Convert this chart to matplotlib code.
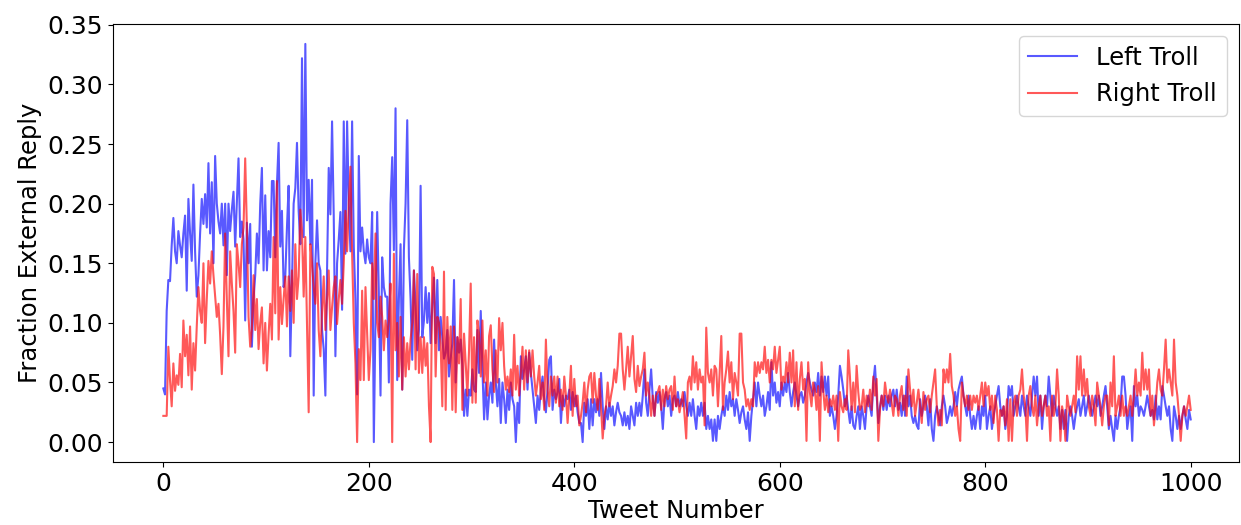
import numpy as np
import matplotlib
matplotlib.use("Agg")
import matplotlib.pyplot as plt

# fraction of external replies in thousandths,
# sampled roughly every 1.6 tweets from tweet 0 to tweet 1000
left_troll = [
    45, 40, 110, 136, 135, 165, 188, 160, 150, 177, 165, 155, 175, 190, 127, 204, 175, 152, 216, 160,
    122, 140, 175, 204, 183, 208, 180, 234, 175, 218, 150, 240, 200, 185, 175, 200, 165, 200, 140, 200,
    177, 195, 210, 164, 200, 238, 172, 185, 170, 102, 184, 150, 183, 80, 120, 140, 175, 150, 200, 230, 144,
    207, 144, 177, 155, 219, 219, 155, 216, 251, 164, 194, 130, 139, 180, 215, 72, 133, 200, 213, 251,
    194, 166, 322, 172, 334, 186, 220, 166, 220, 39, 150, 186, 150, 144, 94, 78, 39, 144, 230, 191,
    269, 190, 72, 150, 170, 193, 111, 269, 158, 269, 200, 160, 269, 164, 120, 40, 240, 160, 180, 160,
    150, 170, 155,
    150, 193, 0, 105, 193, 125, 39, 155, 130, 122, 122, 50, 200, 239, 161, 280, 52, 120, 166, 44,
    161, 200, 270, 155, 120, 69, 144, 114, 77, 94, 215, 88, 102, 130, 100, 125, 83, 114, 138, 83,
    136, 77, 105, 88, 70, 75, 94, 55, 70, 83, 136, 50, 88, 75, 86, 64, 22, 44, 22, 44, 39, 61, 44,
    42, 94, 58, 110, 61, 19, 50, 19, 39, 50, 33, 86, 50, 30, 53, 16, 50, 36, 16, 44,
    27, 50, 36, 30, 0, 33, 16, 72, 53, 61, 72, 44, 75, 58, 44, 30, 16, 39, 27, 44,
    55, 36, 25, 44, 69, 72, 27, 44, 36, 42, 53, 16, 39, 30, 39, 36, 44, 27, 42, 30, 39, 25, 16,
    16, 0, 33, 22, 36, 11, 36, 14, 36, 25, 36, 22, 58, 30, 11, 30, 19, 33, 22, 30,
    14, 25, 33, 25, 22, 14, 25, 14, 22, 11, 30, 22, 14, 33, 22, 33, 22, 39, 61, 33,
    22, 44, 61, 36, 22, 42, 33, 42, 30, 11, 36, 42, 30, 39, 22, 36, 39, 30, 42, 30, 36, 30, 42,
    30, 22, 33, 22, 36, 22, 11, 30, 22, 33, 22, 33, 11, 22, 11, 19, 1, 19, 1, 22,
    11, 22, 30, 22, 39, 27, 42, 30, 36, 22, 36, 27, 16, 25, 30, 19, 11, 25, 1, 22,
    36, 50, 30, 50, 39, 30, 39, 22, 30, 42, 27, 67, 39, 50, 33, 42, 30, 50, 39, 50, 42, 58, 42,
    30, 42, 50, 39, 30, 39, 42, 33, 39, 50, 58, 50, 44, 39, 50, 42, 58, 39, 55, 42,
    55, 39, 55, 22, 30, 22, 11, 22, 39, 64, 55, 44, 30, 39, 27, 16, 30, 14, 11, 22,
    30, 11, 30, 22, 11, 30, 39, 30, 22, 50, 64, 39, 16, 30, 39, 27, 39, 27, 39, 30, 39, 44, 30,
    44, 27, 33, 22, 39, 22, 55, 30, 39, 22, 16, 22, 14, 11, 36, 22, 30, 39, 30, 14,
    36, 11, 1, 22, 30, 22, 14, 30, 39, 30, 16, 22, 30, 22, 30, 42, 30, 44, 50, 55,
    39, 30, 22, 39, 22, 11, 22, 11, 22, 30, 11, 30, 22, 39, 11, 22, 30, 11, 22, 30, 39, 47, 30,
    22, 30, 11, 22, 47, 39, 47, 22, 30, 39, 30, 22, 39, 30, 22, 39, 30, 22, 39, 55,
    39, 55, 22, 39, 11, 30, 39, 30, 55, 39, 22, 39, 30, 22, 30, 11, 27, 11, 27, 1,
    22, 30, 22, 11, 22, 30, 36, 22, 30, 39, 22, 30, 39, 30, 22, 30, 39, 30, 39, 22, 30, 39, 47,
    30, 11, 22, 11, 1, 22, 11, 22, 30, 55, 55, 39, 11, 22, 30, 1, 47, 30, 39, 22,
    30, 27, 22, 30, 39, 30, 22, 27, 19, 39, 19, 30, 19, 47, 39, 30, 22, 30, 11, 1,
    30, 22, 11, 22, 11, 22, 30, 19, 11, 27, 19,
]

right_troll = [
    22, 22, 22, 80, 52, 30, 66, 43, 56, 48, 74, 46, 102, 72, 90, 56, 97, 44, 83, 60,
    97, 130, 110, 100, 150, 83, 120, 152, 133, 160, 140, 122, 105, 116, 90, 57, 97, 175, 120, 72,
    160, 133, 110, 75, 166, 150, 130, 166, 180, 238, 180, 105, 80, 95, 140, 94, 120, 78, 100, 113, 66,
    100, 60, 90, 116, 86, 172, 108, 219, 86, 130, 99, 120, 139, 97, 139, 110, 144, 100, 166, 120,
    139, 195, 177, 122, 172, 99, 25, 166, 150, 130, 116, 150, 94, 72, 110, 139, 94, 120, 144, 94,
    113, 130, 139, 99, 120, 136, 116, 150, 194, 160, 200, 231, 158, 100, 66, 0, 78, 52, 127, 52,
    130, 90, 52,
    77, 150, 120, 175, 100, 88, 122, 105, 77, 102, 88, 102, 133, 0, 158, 77, 100, 55, 105, 44,
    88, 55, 83, 61, 86, 100, 144, 61, 141, 58, 88, 58, 88, 64, 83, 30, 0, 147, 141, 55,
    105, 100, 83, 30, 143, 27, 105, 66, 97, 27, 97, 25, 88, 66, 120, 27, 91, 66, 39, 77, 133, 33, 88,
    33, 102, 91, 55, 102, 50, 77, 39, 89, 98, 61, 42, 77, 50, 104, 77, 100, 64, 44, 55,
    42, 61, 39, 90, 44, 64, 39, 58, 80, 44, 77, 50, 77, 55, 77, 55, 39, 50, 64, 36,
    50, 27, 86, 44, 30, 55, 39, 55, 33, 55, 30, 44, 27, 55, 39, 16, 39, 64, 22, 53, 30, 39, 14,
    22, 33, 50, 25, 44, 55, 58, 33, 58, 39, 27, 53, 30, 3, 22, 30, 50, 30, 39, 47,
    61, 50, 64, 91, 91, 61, 44, 61, 80, 55, 72, 89, 53, 42, 64, 47, 55, 61, 75, 39,
    50, 39, 22, 39, 22, 39, 42, 47, 27, 44, 30, 47, 36, 44, 47, 27, 55, 30, 36, 25, 33, 42, 22,
    3, 50, 55, 44, 72, 50, 67, 44, 61, 50, 55, 14, 96, 58, 50, 61, 39, 64, 61, 30,
    58, 89, 27, 50, 61, 76, 50, 67, 36, 58, 50, 39, 91, 91, 50, 44, 30, 36, 27, 36,
    30, 67, 55, 67, 58, 67, 61, 80, 58, 69, 50, 69, 61, 80, 58, 69, 80, 44, 55, 50, 67, 50, 75,
    50, 77, 30, 67, 27, 53, 67, 44, 53, 1, 67, 42, 30, 50, 44, 27, 47, 1, 67, 44,
    27, 39, 25, 36, 30, 39, 27, 39, 1, 42, 30, 25, 36, 27, 77, 55, 27, 50, 25, 64,
    42, 27, 30, 44, 25, 39, 30, 44, 27, 55, 39, 53, 1, 27, 39, 30, 50, 39, 33, 44, 33, 22, 39,
    36, 22, 39, 47, 27, 39, 22, 61, 44, 30, 44, 22, 33, 44, 30, 16, 42, 27, 36, 39,
    25, 39, 50, 61, 30, 14, 27, 14, 61, 50, 61, 50, 74, 47, 39, 22, 30, 11, 1, 50,
    39, 30, 39, 27, 39, 27, 39, 33, 39, 27, 39, 50, 30, 50, 39, 47, 27, 39, 16, 39, 27, 1, 27,
    22, 30, 14, 36, 1, 36, 1, 33, 39, 22, 39, 44, 61, 39, 30, 1, 39, 47, 30, 22,
    39, 14, 30, 39, 22, 30, 39, 22, 30, 1, 39, 22, 30, 61, 39, 1, 30, 22, 1, 39,
    30, 22, 30, 39, 25, 72, 44, 72, 39, 61, 39, 53, 30, 22, 39, 30, 14, 50, 39, 30, 14, 30, 39,
    39, 14, 50, 30, 72, 22, 30, 39, 22, 39, 22, 30, 22, 30, 39, 22, 39, 61, 39, 50,
    39, 75, 44, 61, 44, 61, 22, 39, 14, 30, 50, 61, 44, 39, 61, 86, 50, 61, 50, 39,
    86, 50, 39, 22, 1, 22, 30, 22, 30, 39, 27,
]

left = np.array(left_troll) / 1000.0
right = np.array(right_troll) / 1000.0
x_left = np.linspace(0, 1000, len(left))
x_right = np.linspace(0, 1000, len(right))

fig = plt.figure(figsize=(12.41, 5.25), dpi=100)
ax = fig.add_axes([113 / 1241, 1 - 462 / 525, (1239 - 113) / 1241, (462 - 24) / 525])

ax.plot(x_left, left, color="blue", alpha=0.65, linewidth=1.5, label="Left Troll")
ax.plot(x_right, right, color="red", alpha=0.65, linewidth=1.5, label="Right Troll")
ax.set_xlim(-49, 1047)

ax.set_xlabel("Tweet Number", fontsize=17.5, labelpad=2)
ax.set_ylabel("Fraction External Reply", fontsize=17.5)
ax.tick_params(labelsize=18)
ax.legend(loc="upper right", fontsize=17.5)

fig.savefig("out.png", dpi=100)
